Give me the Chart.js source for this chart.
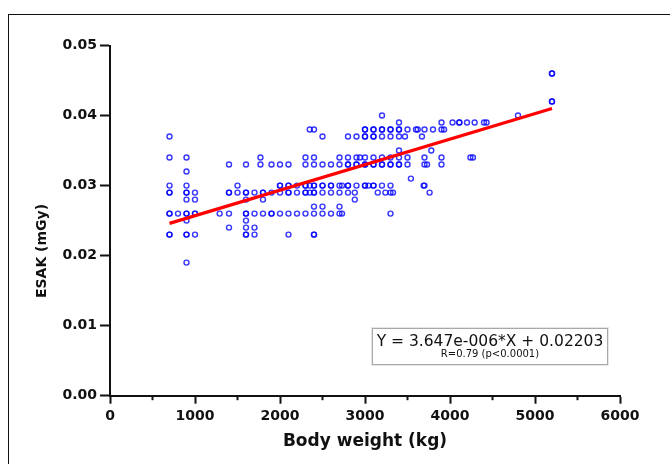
<!DOCTYPE html>
<html>
<head>
<meta charset="utf-8">
<title>ESAK vs body weight</title>
<script src="https://cdn.jsdelivr.net/npm/chart.js@4.4.1/dist/chart.umd.min.js"></script>
<style>
    body { margin: 0; background: #fff; }
    #wrap { position: relative; width: 670px; height: 464px; overflow: hidden; }
    #frame { position: absolute; left: 8px; top: 14px; width: 700px; height: 500px;
             border-left: 1px solid #111; border-top: 1px solid #111; }
    #chart { position: absolute; left: 0; top: 0; }
    #fitbox { position: absolute; left: 372px; top: 328px; width: 234px; height: 35px;
              border: 1px solid #a8a8a8; box-shadow: 0 0 0 1px #e6e6e6; background: #fff;
              text-align: center; color: #111; font-family: "DejaVu Sans", sans-serif; }
    #fitbox .eq { margin-top: 4px; font-size: 15.5px; line-height: 16px; }
    #fitbox .r { font-size: 10px; line-height: 10px; }
</style>
</head>
<body>
<div id="wrap">
    <div id="frame"></div>
    <canvas id="chart" width="670" height="464"></canvas>
    <div id="fitbox">
        <div class="eq">Y = 3.647e-006*X + 0.02203</div>
        <div class="r">R=0.79 (p&lt;0.0001)</div>
    </div>
</div>
<script>
// ESAK levels (mGy) and the body weights (kg) observed at each level
const esakLevels = [0.019, 0.023, 0.024, 0.025, 0.026, 0.027, 0.028, 0.029, 0.030, 0.031,
    0.032, 0.033, 0.034, 0.035, 0.037, 0.038, 0.039, 0.040, 0.042, 0.046];
const weightsAtLevel = [
    [900],
    [700, 700, 900, 900, 1000, 1600, 1600, 1700, 2100, 2400, 2400],
    [1400, 1600, 1700],
    [900, 1600],
    [700, 700, 800, 900, 900, 1000, 1000, 1290, 1400, 1600, 1600, 1700, 1800, 1900, 1900, 2000, 2100, 2200, 2300, 2400, 2500, 2600, 2700, 2730, 3300],
    [2400, 2500, 2700],
    [900, 1000, 1600, 1800, 2880],
    [700, 700, 900, 900, 1000, 1400, 1400, 1500, 1600, 1600, 1700, 1800, 1800, 1900, 2000, 2100, 2100, 2200, 2300, 2300, 2350, 2400, 2400, 2500, 2600, 2700, 2800, 2880, 3150, 3240, 3300, 3330, 3760],
    [700, 900, 1500, 2000, 2000, 2100, 2100, 2200, 2300, 2300, 2350, 2400, 2400, 2500, 2500, 2600, 2600, 2700, 2730, 2800, 2800, 2900, 3000, 3000, 3040, 3100, 3100, 3200, 3300, 3690, 3700],
    [3540],
    [900],
    [1400, 1600, 1770, 1900, 2000, 2100, 2300, 2400, 2500, 2600, 2700, 2800, 2800, 2900, 2900, 3000, 3000, 3100, 3100, 3200, 3200, 3300, 3300, 3400, 3400, 3500, 3700, 3730, 3900],
    [700, 900, 1770, 2300, 2400, 2700, 2800, 2900, 2940, 3000, 3100, 3200, 3300, 3400, 3500, 3700, 3900, 4240, 4270],
    [3400, 3780],
    [700, 2500, 2800, 2900, 3000, 3000, 3100, 3100, 3200, 3300, 3400, 3470, 3670],
    [2350, 2400, 3000, 3000, 3100, 3100, 3200, 3200, 3300, 3300, 3400, 3400, 3500, 3600, 3620, 3700, 3800, 3900, 3930],
    [3400, 3900, 4030, 4110, 4110, 4200, 4290, 4400, 4430],
    [3200, 4800],
    [5200, 5200],
    [5200, 5200]
];

// regression line end points
const fitX = [700, 5200];
const fitY = [0.0246, 0.0410];

// axis ticks
const xTicks = [0, 1000, 2000, 3000, 4000, 5000, 6000];
const xMinorTicks = [500, 1500, 2500, 3500, 4500, 5500];
const yTicks = [0, 0.01, 0.02, 0.03, 0.04, 0.05];

const points = [];
esakLevels.forEach(function (y, i) {
    weightsAtLevel[i].forEach(function (x) {
        points.push({ x: x, y: y });
    });
});

const fitLine = fitX.map(function (x, i) { return { x: x, y: fitY[i] }; });

// short ticks between the labelled ones on the x axis
const minorTicks = {
    id: "minorTicks",
    afterDraw(chart) {
        const ctx = chart.ctx;
        const sx = chart.scales.x;
        const y0 = chart.chartArea.bottom;
        ctx.save();
        ctx.strokeStyle = "#111";
        ctx.lineWidth = 2;
        xMinorTicks.forEach(function (v) {
            const px = sx.getPixelForValue(v);
            ctx.beginPath();
            ctx.moveTo(px, y0);
            ctx.lineTo(px, y0 + 4.5);
            ctx.stroke();
        });
        ctx.restore();
    }
};

// y axis title, sits a bit lower than the axis centre in the original
const yTitle = {
    id: "yTitle",
    afterDraw(chart) {
        const ctx = chart.ctx;
        ctx.save();
        ctx.translate(42, 251);
        ctx.rotate(-Math.PI / 2);
        ctx.font = "bold 14px 'DejaVu Sans'";
        ctx.fillStyle = "#111";
        ctx.textAlign = "center";
        ctx.textBaseline = "middle";
        ctx.fillText("ESAK (mGy)", 0, 0);
        ctx.restore();
    }
};

const ctx = document.getElementById("chart").getContext("2d");
new Chart(ctx, {
    type: "scatter",
    data: {
        datasets: [
            {
                type: "line",
                label: "fit",
                data: fitLine,
                borderColor: "#ff0000",
                borderWidth: 3.2,
                pointRadius: 0,
                fill: false,
                order: 0
            },
            {
                label: "ESAK",
                data: points,
                pointStyle: "circle",
                pointRadius: 2.5,
                borderWidth: 1.4,
                borderColor: "rgba(0, 0, 255, 0.78)",
                backgroundColor: "rgba(0, 0, 0, 0)",
                order: 1
            }
        ]
    },
    options: {
        responsive: false,
        animation: false,
        layout: { padding: { left: 0, top: 45.5, right: 50, bottom: 0 } },
        plugins: {
            legend: { display: false },
            tooltip: { enabled: false }
        },
        scales: {
            x: {
                type: "linear",
                min: 0,
                max: 6000,
                afterBuildTicks: function (scale) {
                    scale.ticks = xTicks.map(function (v) { return { value: v }; });
                },
                afterFit: function (scale) { scale.height = 68.3; },
                border: { display: true, color: "#111", width: 2 },
                grid: { drawOnChartArea: false, drawTicks: true, tickLength: 8, tickWidth: 2, tickColor: "#111" },
                ticks: {
                    padding: 4,
                    color: "#111",
                    maxRotation: 0,
                    font: { family: "'DejaVu Sans'", size: 14, weight: "bold" },
                    callback: function (v) { return String(v); }
                },
                title: {
                    display: true,
                    text: "Body weight (kg)",
                    color: "#111",
                    padding: { top: 0, bottom: 12 },
                    font: { family: "'DejaVu Sans'", size: 17, weight: "bold" }
                }
            },
            y: {
                type: "linear",
                min: 0,
                max: 0.05,
                afterBuildTicks: function (scale) {
                    scale.ticks = yTicks.map(function (v) { return { value: v }; });
                },
                afterFit: function (scale) { scale.width = 110; },
                border: { display: true, color: "#111", width: 2 },
                grid: { drawOnChartArea: false, drawTicks: true, tickLength: 10, tickWidth: 2, tickColor: "#111" },
                ticks: {
                    padding: 3,
                    color: "#111",
                    font: { family: "'DejaVu Sans'", size: 14, weight: "bold" },
                    callback: function (v) { return Number(v).toFixed(2); }
                }
            }
        }
    },
    plugins: [minorTicks, yTitle]
});
</script>
</body>
</html>
